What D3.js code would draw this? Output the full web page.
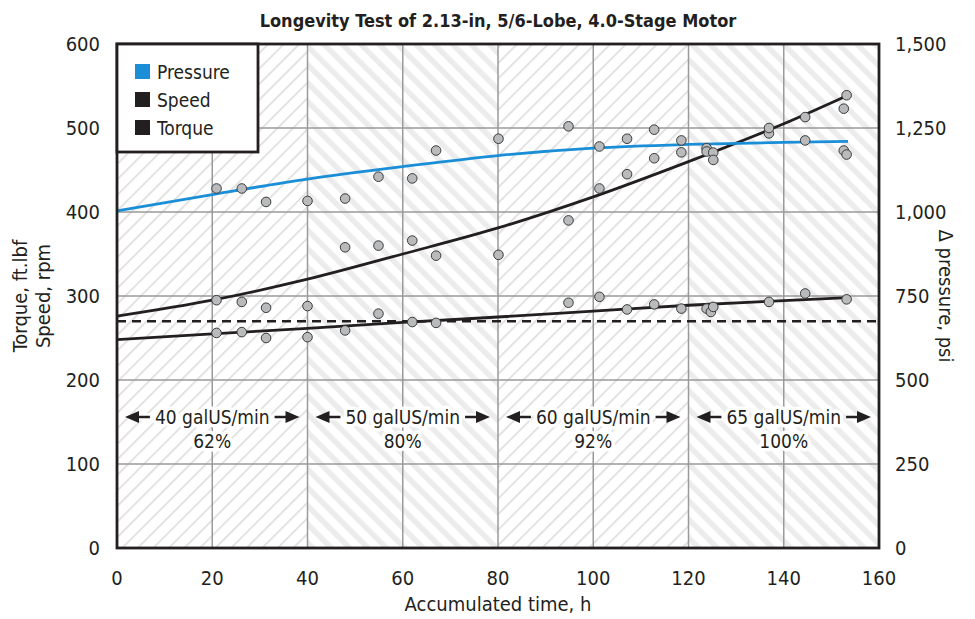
<!DOCTYPE html>
<html>
<head>
<meta charset="utf-8">
<script src="https://cdn.jsdelivr.net/npm/d3@7"></script>
<style>
  body { margin: 0; background: #fff; }
  svg { display: block; }
  text { font-family: "Liberation Sans Narrow", "DejaVu Sans Condensed", "Roboto", sans-serif; fill: #231f20; }
</style>
</head>
<body>
<svg id="chart" width="975" height="619"></svg>
<script>
// measured points (time in h)
const hours = [20.9, 26.2, 31.3, 40.0, 47.9, 54.9, 62.0, 67.0, 80.1, 94.8, 101.3,
  107.1, 112.8, 118.5, 123.8, 124.7, 125.2, 136.9, 144.5, 152.6, 153.2];
const pressure = [1070, 1070, 1030, 1033, 1040, 1105, 1100, 1183, 1218, 1255, 1195,
  1218, 1245, 1213, 1190, null, 1177, 1234, 1213, 1183, 1171];
const speed = [295, 293, 286, 288, 358, 360, 366, 348, 349, 390, 428,
  445, 464, 471, 472, null, 462, 500, 513, 523, 539];
const torque = [256, 257, 250, 251, 259, 279, 269, 268, null, 292, 299,
  284, 290, 285, 285, 281, 287, 293, 303, null, 296];

// trend lines
const fitHours = [0, 20, 40, 60, 80, 100, 120, 140, 153.5];
const pressureFit = [1003, 1052, 1098, 1135, 1168, 1190, 1201, 1207, 1210];
const speedFit = [276, 295, 320, 350, 381, 418, 460, 505, 539];
const torqueFit = [248, 255, 261.5, 268.5, 275, 282, 289, 294.5, 298];

const torqueLimit = 270;

const stages = [
  { from: 0, to: 40, flow: '40 galUS/min', pct: '62%' },
  { from: 40, to: 80, flow: '50 galUS/min', pct: '80%' },
  { from: 80, to: 120, flow: '60 galUS/min', pct: '92%' },
  { from: 120, to: 160, flow: '65 galUS/min', pct: '100%' },
];

const legendItems = [
  { name: 'Pressure', color: '#1a8ed6' },
  { name: 'Speed', color: '#231f20' },
  { name: 'Torque', color: '#231f20' },
];

const xTicks = d3.range(0, 161, 20);
const yTicks = d3.range(0, 601, 100);
const y2Ticks = d3.range(0, 1501, 250);

const svg = d3.select('#chart');
const m = { l: 117, r: 879, t: 44, b: 548 };

const x = d3.scaleLinear().domain([0, 160]).range([m.l, m.r]);
const y = d3.scaleLinear().domain([0, 600]).range([m.b, m.t]);
const y2 = d3.scaleLinear().domain([0, 1500]).range([m.b, m.t]);

// hatch patterns
const defs = svg.append('defs');
const thin = defs.append('pattern')
  .attr('id', 'thin')
  .attr('patternUnits', 'userSpaceOnUse')
  .attr('width', 11).attr('height', 11)
  .attr('patternTransform', 'rotate(45)');
thin.append('rect').attr('width', 11).attr('height', 11).attr('fill', '#fff');
thin.append('line')
  .attr('x1', 0).attr('y1', 0).attr('x2', 0).attr('y2', 11)
  .attr('stroke', '#dcdcdc').attr('stroke-width', 3.2);

const wide = defs.append('pattern')
  .attr('id', 'wide')
  .attr('patternUnits', 'userSpaceOnUse')
  .attr('width', 13).attr('height', 13)
  .attr('patternTransform', 'rotate(-45)');
wide.append('rect').attr('width', 13).attr('height', 13).attr('fill', '#fff');
wide.append('line')
  .attr('x1', 0).attr('y1', 0).attr('x2', 0).attr('y2', 13)
  .attr('stroke', '#ececec').attr('stroke-width', 11);

svg.selectAll('rect.stage')
  .data(stages)
  .enter()
  .append('rect')
  .attr('x', d => x(d.from))
  .attr('y', m.t)
  .attr('width', d => x(d.to) - x(d.from))
  .attr('height', m.b - m.t)
  .attr('fill', (d, i) => (i % 2 ? 'url(#wide)' : 'url(#thin)'));

// grid
svg.append('g')
  .selectAll('line')
  .data(xTicks.slice(1, -1))
  .enter()
  .append('line')
  .attr('x1', d => x(d)).attr('x2', d => x(d))
  .attr('y1', m.t).attr('y2', m.b)
  .attr('stroke', '#9a9a9a').attr('stroke-width', 1.5);

svg.append('g')
  .selectAll('line')
  .data(yTicks.slice(1, -1))
  .enter()
  .append('line')
  .attr('x1', m.l).attr('x2', m.r)
  .attr('y1', d => y(d)).attr('y2', d => y(d))
  .attr('stroke', '#9a9a9a').attr('stroke-width', 1.5);

// stage annotations
const ann = svg.append('g');
stages.forEach((s) => {
  const cx = (x(s.from) + x(s.to)) / 2;
  const t = ann.append('text')
    .attr('x', cx).attr('y', 424)
    .attr('text-anchor', 'middle')
    .attr('font-size', 19)
    .attr('stroke', '#fff').attr('stroke-width', 7)
    .attr('stroke-linejoin', 'round')
    .attr('paint-order', 'stroke')
    .text(s.flow);
  ann.append('text')
    .attr('x', cx).attr('y', 448)
    .attr('text-anchor', 'middle')
    .attr('font-size', 19)
    .attr('stroke', '#fff').attr('stroke-width', 7)
    .attr('stroke-linejoin', 'round')
    .attr('paint-order', 'stroke')
    .text(s.pct);
  const w = t.node().getComputedTextLength();
  const ay = 417;
  const ends = [
    [x(s.from) + 8, cx - w / 2 - 5],
    [x(s.to) - 8, cx + w / 2 + 5],
  ];
  ends.forEach(([tip, tail]) => {
    const dir = tip < tail ? 1 : -1;
    ann.append('line')
      .attr('x1', tail).attr('x2', tip + dir * 10)
      .attr('y1', ay).attr('y2', ay)
      .attr('stroke', '#fff').attr('stroke-width', 7);
    ann.append('line')
      .attr('x1', tail).attr('x2', tip + dir * 10)
      .attr('y1', ay).attr('y2', ay)
      .attr('stroke', '#231f20').attr('stroke-width', 2.5);
    ann.append('path')
      .attr('d', `M${tip},${ay}L${tip + dir * 14},${ay - 6}L${tip + dir * 14},${ay + 6}Z`)
      .attr('fill', '#231f20');
  });
});

// dashed limit
svg.append('line')
  .attr('x1', m.l).attr('x2', m.r)
  .attr('y1', y(torqueLimit)).attr('y2', y(torqueLimit))
  .attr('stroke', '#231f20').attr('stroke-width', 2.5)
  .attr('stroke-dasharray', '9,6');

// trend lines
const fit = (vals, scale) => d3.line()
  .x((d, i) => x(fitHours[i]))
  .y(d => scale(d))
  .curve(d3.curveMonotoneX)(vals);

svg.append('path').attr('d', fit(torqueFit, y))
  .attr('fill', 'none').attr('stroke', '#231f20').attr('stroke-width', 2.8);
svg.append('path').attr('d', fit(speedFit, y))
  .attr('fill', 'none').attr('stroke', '#231f20').attr('stroke-width', 2.8);
svg.append('path').attr('d', fit(pressureFit, y2))
  .attr('fill', 'none').attr('stroke', '#1a8ed6').attr('stroke-width', 2.8);

// points
const pts = [];
hours.forEach((h, i) => {
  if (pressure[i] != null) pts.push([h, y2(pressure[i])]);
  if (speed[i] != null) pts.push([h, y(speed[i])]);
  if (torque[i] != null) pts.push([h, y(torque[i])]);
});
svg.append('g')
  .selectAll('circle')
  .data(pts)
  .enter()
  .append('circle')
  .attr('cx', d => x(d[0]))
  .attr('cy', d => d[1])
  .attr('r', 4.8)
  .attr('fill', '#b9babc')
  .attr('stroke', '#3a3a3a')
  .attr('stroke-width', 1);

// frame
svg.append('rect')
  .attr('x', m.l).attr('y', m.t)
  .attr('width', m.r - m.l).attr('height', m.b - m.t)
  .attr('fill', 'none').attr('stroke', '#231f20').attr('stroke-width', 2.8);

// legend
const lg = svg.append('g');
lg.append('rect')
  .attr('x', m.l).attr('y', m.t)
  .attr('width', 141).attr('height', 108)
  .attr('fill', '#fff').attr('stroke', '#231f20').attr('stroke-width', 2.8);
legendItems.forEach((d, i) => {
  lg.append('rect')
    .attr('x', 135).attr('y', 64 + i * 28)
    .attr('width', 15).attr('height', 15)
    .attr('fill', d.color);
  lg.append('text')
    .attr('x', 157).attr('y', 79 + i * 28)
    .attr('font-size', 19)
    .text(d.name);
});

// axes labels
svg.append('g')
  .selectAll('text')
  .data(yTicks)
  .enter()
  .append('text')
  .attr('x', 100).attr('y', d => y(d) + 7)
  .attr('text-anchor', 'end')
  .attr('font-size', 20)
  .text(d => d);

svg.append('g')
  .selectAll('text')
  .data(y2Ticks)
  .enter()
  .append('text')
  .attr('x', 895).attr('y', d => y2(d) + 7)
  .attr('text-anchor', 'start')
  .attr('font-size', 20)
  .text(d => d3.format(',')(d));

svg.append('g')
  .selectAll('text')
  .data(xTicks)
  .enter()
  .append('text')
  .attr('x', d => x(d)).attr('y', 585)
  .attr('text-anchor', 'middle')
  .attr('font-size', 20)
  .text(d => d);

svg.append('text')
  .attr('x', x(80)).attr('y', 611)
  .attr('text-anchor', 'middle')
  .attr('font-size', 20)
  .text('Accumulated time, h');

const midY = (m.t + m.b) / 2;
svg.append('text')
  .attr('transform', `translate(27,${midY}) rotate(-90)`)
  .attr('text-anchor', 'middle')
  .attr('font-size', 20)
  .text('Torque, ft.lbf');
svg.append('text')
  .attr('transform', `translate(50,${midY}) rotate(-90)`)
  .attr('text-anchor', 'middle')
  .attr('font-size', 20)
  .text('Speed, rpm');

svg.append('text')
  .attr('transform', `translate(939,${midY}) rotate(90)`)
  .attr('text-anchor', 'middle')
  .attr('font-size', 20)
  .text('Δ pressure, psi');

svg.append('text')
  .attr('x', x(80)).attr('y', 27)
  .attr('text-anchor', 'middle')
  .attr('font-size', 18)
  .attr('font-weight', 'bold')
  .text('Longevity Test of 2.13-in, 5/6-Lobe, 4.0-Stage Motor');
</script>
</body>
</html>
